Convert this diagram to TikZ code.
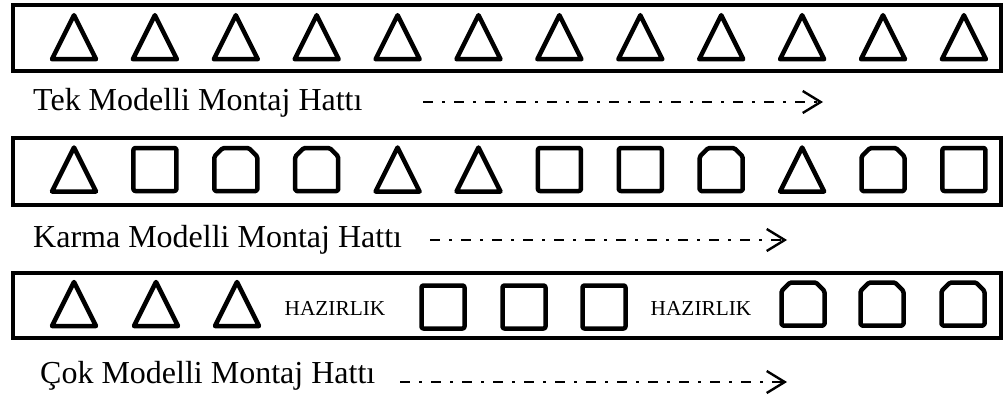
\documentclass[tikz,border=0pt]{standalone}
\usepackage{fontspec}
\setmainfont{Liberation Serif}
\usetikzlibrary{arrows.meta}

\tikzset{
  hat/.style={draw, line width=4pt},
  sekil/.style={draw, line width=4.5pt, line join=round},
  etiket/.style={anchor=base west, inner sep=0pt, font=\fontsize{32}{37}\selectfont},
  hazirlik/.style={inner sep=0pt, font=\fontsize{21.3}{25}\selectfont},
  akis/.style={line width=2.5pt, dash pattern=on 10pt off 9pt on 2.5pt off 9.5pt,
    -{Straight Barb[length=18pt, width=22pt, line width=2.4pt]}},
  ucgen/.pic={\draw[sekil] (0,-22) -- (22,22) -- (-22,22) -- cycle;},
  kare/.pic={\draw[sekil, rounded corners=2pt] (-21.5,-21.5) rectangle (21.5,21.5);},
  ev/.pic={\draw[sekil, rounded corners=1.5pt] (-21.5,21.5) -- (-21.5,-13) -- (-13,-21.5)
    -- (13,-21.5) -- (21.5,-13) -- (21.5,21.5) -- cycle;}
}

\begin{document}
\begin{tikzpicture}[x=1pt, y=-1pt]
\useasboundingbox (0,0) rectangle (1003,397);

% tek modelli hat
\draw[hat] (12.5,5.3) rectangle (1001,70.5);
\foreach \i in {0,...,11}
  \pic at ({74+80.9*\i},37.2) {ucgen};
\node[etiket] (tek) at (33,110) {Tek Modelli Montaj Hattı};
\coordinate (tekA) at (423,102);
\coordinate (tekB) at (823,102);
\draw[akis] (tekA) -- (tekB);

% karma modelli hat
\draw[hat] (12.5,137.8) rectangle (1001,204.5);
\foreach \t [count=\i from 0] in {ucgen,kare,ev,ev,ucgen,ucgen,kare,kare,ev,ucgen,ev,kare}
  \pic at ({74+80.9*\i},169.5) {\t};
\node[etiket] (karma) at (33,247) {Karma Modelli Montaj Hattı};
\coordinate (karmaA) at (430,240);
\coordinate (karmaB) at (787,240);
\draw[akis] (karmaA) -- (karmaB);

% cok modelli hat
\draw[hat] (12.5,272.8) rectangle (1001,338);
\foreach \t/\px/\py in {ucgen/74/304, ucgen/156/304, ucgen/237/304,
    kare/443/307, kare/524/307, kare/604/307, ev/803/304, ev/882/304, ev/963/304}
  \pic at (\px,\py) {\t};
\node[hazirlik] (haz1) at (335,308) {HAZIRLIK};
\node[hazirlik] (haz2) at (701,308) {HAZIRLIK};
\node[etiket] (cok) at (40,383) {Çok Modelli Montaj Hattı};
\coordinate (cokA) at (400,382);
\coordinate (cokB) at (787,382);
\draw[akis] (cokA) -- (cokB);
\end{tikzpicture}
\end{document}
